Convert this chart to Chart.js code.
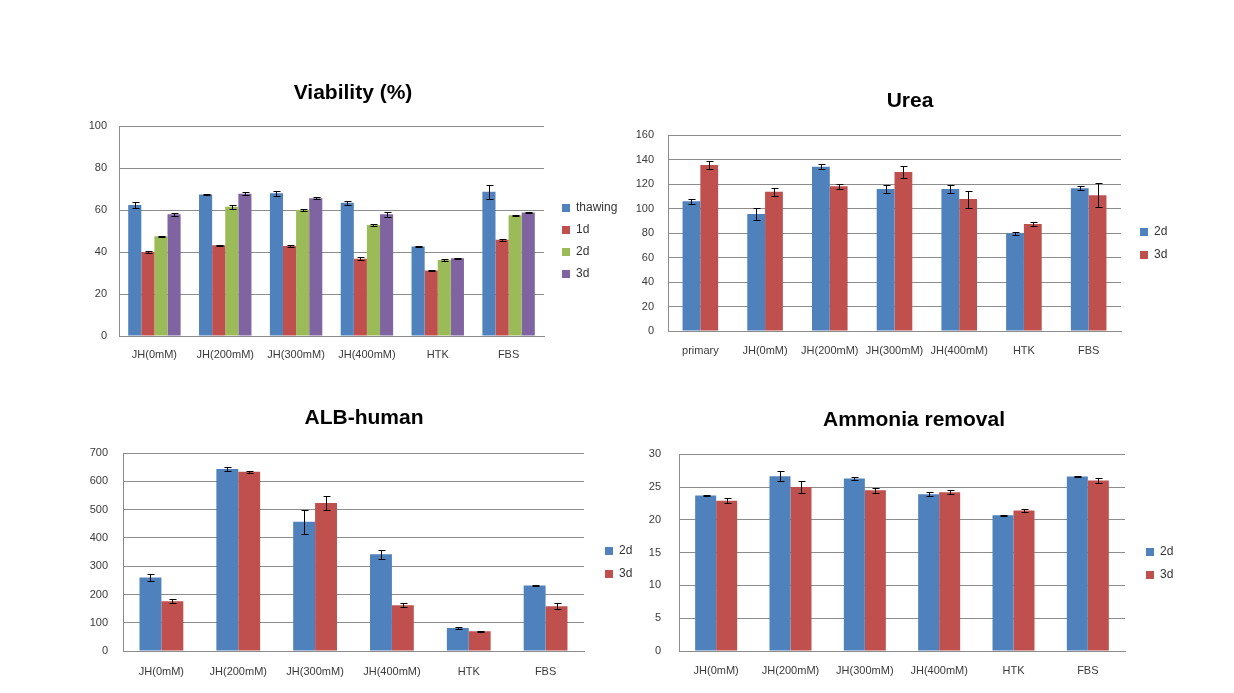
<!DOCTYPE html>
<html>
<head>
<meta charset="utf-8">
<script src="https://cdn.jsdelivr.net/npm/chart.js@4.4.1/dist/chart.umd.min.js"></script>
<style>
  html, body { margin: 0; padding: 0; background: #fff; }
  body { width: 1234px; height: 693px; position: relative; overflow: hidden; }
  canvas { position: absolute; }
</style>
</head>
<body>
<canvas id="c1"></canvas>
<canvas id="c2"></canvas>
<canvas id="c3"></canvas>
<canvas id="c4"></canvas>
<script>
// ---------- Data ----------
const vCategories = ['JH(0mM)', 'JH(200mM)', 'JH(300mM)', 'JH(400mM)', 'HTK', 'FBS'];
const vThawing    = [62.5, 67.5, 68.0, 63.5, 42.7, 68.7];
const vThawingErr = [1.5, 0.4, 1.2, 1.0, 0.3, 3.4];
const v1d         = [40.0, 43.2, 42.9, 36.8, 31.2, 45.9];
const v1dErr      = [0.5, 0.4, 0.6, 0.7, 0.4, 0.4];
const v2d         = [47.5, 61.6, 60.0, 52.9, 36.2, 57.6];
const v2dErr      = [0.3, 1.0, 0.4, 0.4, 0.4, 0.2];
const v3d         = [58.0, 67.8, 65.7, 58.0, 37.1, 58.9];
const v3dErr      = [0.8, 0.6, 0.5, 1.2, 0.2, 0.3];

const uCategories = ['primary', 'JH(0mM)', 'JH(200mM)', 'JH(300mM)', 'JH(400mM)', 'HTK', 'FBS'];
const u2d    = [106.0, 95.6, 134.2, 116.0, 116.0, 79.8, 116.6];
const u2dErr = [2.0, 5.0, 2.0, 3.5, 3.5, 1.0, 1.7];
const u3d    = [135.7, 113.8, 118.2, 130.0, 107.8, 87.4, 111.0];
const u3dErr = [3.5, 3.3, 2.0, 5.0, 7.0, 2.0, 10.0];

const aCategories = ['JH(0mM)', 'JH(200mM)', 'JH(300mM)', 'JH(400mM)', 'HTK', 'FBS'];
const a2d    = [260, 644, 457, 342, 81, 232];
const a2dErr = [13, 6, 42, 15, 3, 1.5];
const a3d    = [176, 634, 524, 162, 70, 158];
const a3dErr = [7, 3, 24, 7, 2, 11];

const nCategories = ['JH(0mM)', 'JH(200mM)', 'JH(300mM)', 'JH(400mM)', 'HTK', 'FBS'];
const n2d    = [23.7, 26.65, 26.3, 23.9, 20.7, 26.6];
const n2dErr = [0.1, 0.75, 0.25, 0.3, 0.1, 0.1];
const n3d    = [22.9, 25.0, 24.5, 24.2, 21.4, 26.0];
const n3dErr = [0.35, 0.9, 0.35, 0.3, 0.2, 0.35];

// ---------- Styles ----------
const BLUE = '#4F81BD', RED = '#C0504D', GREEN = '#9BBB59', PURPLE = '#8064A2';
const GRID = '#8c8c8c';
const TICK_COLOR = '#3a3a3a';
const FONT = 'Liberation Sans, Arial, sans-serif';

// Error bar plugin: draws whiskers using the library's scales
const errorBars = {
  id: 'errorBars',
  afterDatasetsDraw(chart) {
    const ctx = chart.ctx;
    const yScale = chart.scales.y;
    ctx.save();
    ctx.strokeStyle = '#000';
    ctx.lineWidth = 1;
    chart.data.datasets.forEach((ds, i) => {
      const meta = chart.getDatasetMeta(i);
      if (!ds.errors) return;
      meta.data.forEach((bar, j) => {
        const v = ds.data[j], e = ds.errors[j];
        const x = Math.round(bar.x) + 0.5;
        const yt = Math.round(yScale.getPixelForValue(v + e)) + 0.5;
        const yb = Math.round(yScale.getPixelForValue(v - e)) + 0.5;
        const cap = 3;
        ctx.beginPath();
        ctx.moveTo(x, yt); ctx.lineTo(x, yb);
        ctx.moveTo(x - cap, yt); ctx.lineTo(x + cap + 1, yt);
        ctx.moveTo(x - cap, yb); ctx.lineTo(x + cap + 1, yb);
        ctx.stroke();
      });
    });
    ctx.restore();
  }
};

// Legend placement plugin: puts the library's legend at a given spot
const legendPlace = {
  id: 'legendPlace',
  afterLayout(chart, args, opts) {
    const lg = chart.legend;
    if (!lg) return;
    const w = lg.width, h = lg.height;
    lg.left = opts.x; lg.top = opts.y;
    lg.right = opts.x + w; lg.bottom = opts.y + h;
  }
};

function makeChart(id, cfg) {
  const cv = document.getElementById(id);
  cv.width = cfg.W; cv.height = cfg.H;
  cv.style.left = cfg.L + 'px'; cv.style.top = cfg.T + 'px';
  cv.style.width = cfg.W + 'px'; cv.style.height = cfg.H + 'px';
  const lgPad = cfg.legendSpacing - 12;
  return new Chart(cv, {
    type: 'bar',
    data: {
      labels: cfg.labels,
      datasets: cfg.series.map(s => ({
        label: s.label, data: s.data, errors: s.err,
        backgroundColor: s.color, borderWidth: 0,
        categoryPercentage: cfg.catPct, barPercentage: 1.0
      }))
    },
    options: {
      responsive: false,
      animation: false,
      devicePixelRatio: 1,
      layout: { padding: 0 },
      plugins: {
        title: {
          display: true, text: cfg.title, color: '#000',
          font: { family: FONT, size: 21, weight: 'bold', lineHeight: 1.2 },
          padding: { top: cfg.titleTop, bottom: cfg.titleBottom }
        },
        legend: {
          position: 'chartArea', align: 'start',
          labels: {
            boxWidth: 8, boxHeight: 8, padding: lgPad,
            color: '#333', font: { family: FONT, size: 12 }
          }
        },
        legendPlace: { x: cfg.legendX - lgPad - cfg.L, y: cfg.legendY - 6 - lgPad - cfg.T },
        tooltip: { enabled: false }
      },
      scales: {
        x: {
          grid: { display: false, drawTicks: false },
          border: { display: true, color: GRID, width: 1 },
          ticks: { color: TICK_COLOR, font: { family: FONT, size: 11 }, padding: cfg.xPad,
                   autoSkip: false, maxRotation: 0, minRotation: 0 },
          afterFit(s) { s.height = cfg.xH; }
        },
        y: {
          min: cfg.yMin, max: cfg.yMax,
          grid: { color: GRID, lineWidth: 1, drawTicks: false },
          border: { display: true, color: GRID, width: 1 },
          ticks: { stepSize: cfg.step, color: TICK_COLOR, font: { family: FONT, size: 11 }, padding: cfg.yPad },
          afterFit(s) { s.width = cfg.yW; }
        },
        // empty right-hand band reserving room for the legend
        yR: {
          position: 'right', display: true,
          grid: { display: false, drawTicks: false },
          border: { display: false },
          ticks: { display: false },
          afterFit(s) { s.width = cfg.padRight; }
        }
      }
    },
    plugins: [errorBars, legendPlace]
  });
}

// Panel 1: Viability
makeChart('c1', {
  L: 80, T: 70, W: 546, H: 296,
  padRight: 82, yW: 39, xH: 30, yPad: 12, xPad: 12,
  titleTop: 11, titleBottom: 20, title: 'Viability (%)',
  labels: vCategories, catPct: 0.74,
  yMin: 0, yMax: 100, step: 20,
  legendX: 562, legendY: 208, legendSpacing: 22,
  series: [
    { label: 'thawing', data: vThawing, err: vThawingErr, color: BLUE },
    { label: '1d', data: v1d, err: v1dErr, color: RED },
    { label: '2d', data: v2d, err: v2dErr, color: GREEN },
    { label: '3d', data: v3d, err: v3dErr, color: PURPLE }
  ]
});

// Panel 2: Urea
makeChart('c2', {
  L: 630, T: 80, W: 560, H: 281,
  padRight: 69, yW: 38, xH: 30, yPad: 14, xPad: 13,
  titleTop: 9, titleBottom: 21, title: 'Urea',
  labels: uCategories, catPct: 0.55,
  yMin: 0, yMax: 160, step: 20,
  legendX: 1140, legendY: 232, legendSpacing: 23,
  series: [
    { label: '2d', data: u2d, err: u2dErr, color: BLUE },
    { label: '3d', data: u3d, err: u3dErr, color: RED }
  ]
});

// Panel 3: ALB-human
makeChart('c3', {
  L: 80, T: 395, W: 568, H: 286,
  padRight: 64, yW: 43, xH: 30, yPad: 15, xPad: 14,
  titleTop: 11, titleBottom: 22, title: 'ALB-human',
  labels: aCategories, catPct: 0.57,
  yMin: 0, yMax: 700, step: 100,
  legendX: 605, legendY: 551, legendSpacing: 23,
  series: [
    { label: '2d', data: a2d, err: a2dErr, color: BLUE },
    { label: '3d', data: a3d, err: a3dErr, color: RED }
  ]
});

// Panel 4: Ammonia removal
makeChart('c4', {
  L: 630, T: 397, W: 568, H: 284,
  padRight: 73, yW: 49, xH: 30, yPad: 18, xPad: 13,
  titleTop: 11, titleBottom: 21, title: 'Ammonia removal',
  labels: nCategories, catPct: 0.565,
  yMin: 0, yMax: 30, step: 5,
  legendX: 1146, legendY: 552, legendSpacing: 23,
  series: [
    { label: '2d', data: n2d, err: n2dErr, color: BLUE },
    { label: '3d', data: n3d, err: n3dErr, color: RED }
  ]
});
</script>
</body>
</html>
